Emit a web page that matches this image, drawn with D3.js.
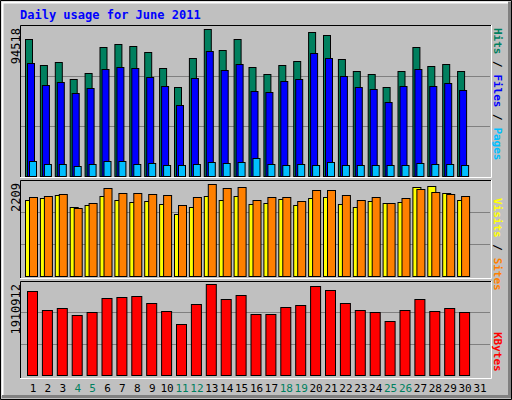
<!DOCTYPE html>
<html><head><meta charset="utf-8">
<script src="https://cdn.jsdelivr.net/npm/d3@7"></script>
<style>body{margin:0;background:#fff}text{font-family:"DejaVu Sans Mono",monospace}</style>
</head><body><div id="chart"></div>
<script>
// daily values
var days = d3.range(1, 32);
var weekend = [4, 5, 11, 12, 18, 19, 25, 26];
var hits = [87900,71180,73110,62180,66040,82750,84680,83400,79540,69250,57030,75680,94518,80820,87900,69890,65390,71180,73750,92400,90470,75040,67320,65390,57030,67320,82750,70540,71820,67320];
var files = [72470,58320,60250,53180,56390,68610,69890,69250,63460,57680,45460,62820,80180,67970,71820,54460,53820,60890,62180,78900,75680,64110,57030,55750,47390,57680,68610,57680,59610,55110];
var pages = [9450,7520,7520,6240,7520,9450,9450,7520,8170,6880,6880,7520,8810,8170,8810,11570,7520,6880,7520,6880,8810,6880,6880,6880,6880,6880,8170,7520,7520,6880];
var visits = [1824,1872,1944,1656,1704,1920,1824,1776,1800,1728,1488,1656,1920,1824,1920,1728,1752,1848,1704,1872,1896,1728,1656,1800,1752,1776,2136,2160,1992,1824];
var sites = [1896,1920,1968,1632,1752,2112,1992,1992,1968,1944,1704,1896,2209,2112,2136,1824,1896,1896,1800,2064,2064,1944,1824,1896,1752,1872,2088,2016,1968,1920];
var kbytes = [1764000,1365000,1407000,1260000,1323000,1617000,1638000,1659000,1512000,1344000,1071000,1491000,1910912,1596000,1680000,1281000,1281000,1428000,1470000,1869000,1785000,1512000,1365000,1323000,1134000,1365000,1596000,1344000,1407000,1323000];

var W = 512, H = 400;
var svg = d3.select("#chart").append("svg").attr("width", W).attr("height", H);

svg.append("rect").attr("width", W).attr("height", H).attr("fill", "#c0c0c0");
svg.append("path").attr("d", "M0.5,399.5V0.5H511.5V399.5Z").attr("fill", "none").attr("stroke", "#000");
svg.append("path").attr("d", "M2.5,396V2.5H508").attr("fill", "none").attr("stroke", "#fff").attr("stroke-width", 2);
svg.append("path").attr("d", "M509.5,2V396.5H2").attr("fill", "none").attr("stroke", "#808080").attr("stroke-width", 3);

svg.append("text").attr("x", 20).attr("y", 19).attr("fill", "#0000ff")
	.attr("font-size", 12).attr("font-weight", "bold").text("Daily usage for June 2011");

var x = d3.scaleLinear().domain([1, 31]).range([33, 480]);

function panel(top, bottom) {
	svg.append("rect").attr("x", 20).attr("y", top).attr("width", 471).attr("height", bottom - top)
		.attr("fill", "#c0c0c0");
	svg.append("path").attr("d", "M20.5," + bottom + "V" + (top + 0.5) + "H491")
		.attr("fill", "none").attr("stroke", "#000");
	svg.append("path").attr("d", "M20," + (bottom + 0.5) + "H491.5V" + top)
		.attr("fill", "none").attr("stroke", "#fff");
}

function grid(y, max) {
	[max / 3, max * 2 / 3].forEach(function (v) {
		svg.append("line").attr("x1", 21).attr("x2", 490)
			.attr("y1", Math.round(y(v)) + 0.5).attr("y2", Math.round(y(v)) + 0.5)
			.attr("stroke", "#808080");
	});
}

function bars(vals, y, dx, w, color) {
	svg.append("g").selectAll("rect").data(vals).enter().append("rect")
		.attr("x", function (d, i) { return x(i + 1) + dx + 0.5; })
		.attr("width", w)
		.attr("y", function (d) { return Math.round(y(d)) + 0.5; })
		.attr("height", function (d) { return y(0) - Math.round(y(d)); })
		.attr("fill", color).attr("stroke", "#000");
}

function yLabel(txt, yTop) {
	svg.append("text").attr("transform", "translate(20," + yTop + ") rotate(-90)")
		.attr("text-anchor", "end").attr("font-size", 12).attr("fill", "#000").text(txt);
}

function sideLabel(parts, yTop) {
	var t = svg.append("text").attr("transform", "translate(494," + yTop + ") rotate(90)")
		.attr("font-size", 11).attr("font-weight", "bold");
	parts.forEach(function (p) { t.append("tspan").attr("fill", p[1]).text(p[0]); });
}

// panel 1: hits / files / pages
panel(25, 177);
var y1 = d3.scaleLinear().domain([0, 94518]).range([176, 29]);
grid(d3.scaleLinear().domain([0, 94518 * 150 / 147]).range([176, 26]), 94518 * 150 / 147);
bars(hits, y1, -8, 7, "#00805f");
bars(files, y1, -6, 7, "#0000ff");
bars(pages, y1, -4, 7, "#00bfff");
yLabel("94518", 28);
sideLabel([["Hits", "#00805f"], [" / ", "#000"], ["Files", "#0000ff"], [" / ", "#000"], ["Pages", "#00bfff"]], 28);

// panel 2: visits / sites
panel(180, 278);
var y2 = d3.scaleLinear().domain([0, 2209]).range([276, 184]);
grid(d3.scaleLinear().domain([0, 3]).range([276, 180]), 3);
bars(visits, y2, -8, 8, "#ffff00");
bars(sites, y2, -4, 8, "#ff8000");
yLabel("2209", 183);
sideLabel([["Visits", "#ffff00"], [" / ", "#000"], ["Sites", "#ff8000"]], 198);

// panel 3: kbytes
panel(281, 378);
var y3 = d3.scaleLinear().domain([0, 1910912]).range([375, 284]);
grid(d3.scaleLinear().domain([0, 3]).range([375, 281]), 3);
bars(kbytes, y3, -6, 10, "#ff0000");
yLabel("1910912", 284);
sideLabel([["KBytes", "#ff0000"]], 332);

// day labels
svg.append("g").selectAll("text").data(days).enter().append("text")
	.attr("x", function (d) { return x(d); }).attr("y", 392)
	.attr("text-anchor", "middle").attr("font-size", 11)
	.attr("fill", function (d) { return weekend.indexOf(d) >= 0 ? "#00805f" : "#000"; })
	.text(function (d) { return d; });
</script></body></html>
